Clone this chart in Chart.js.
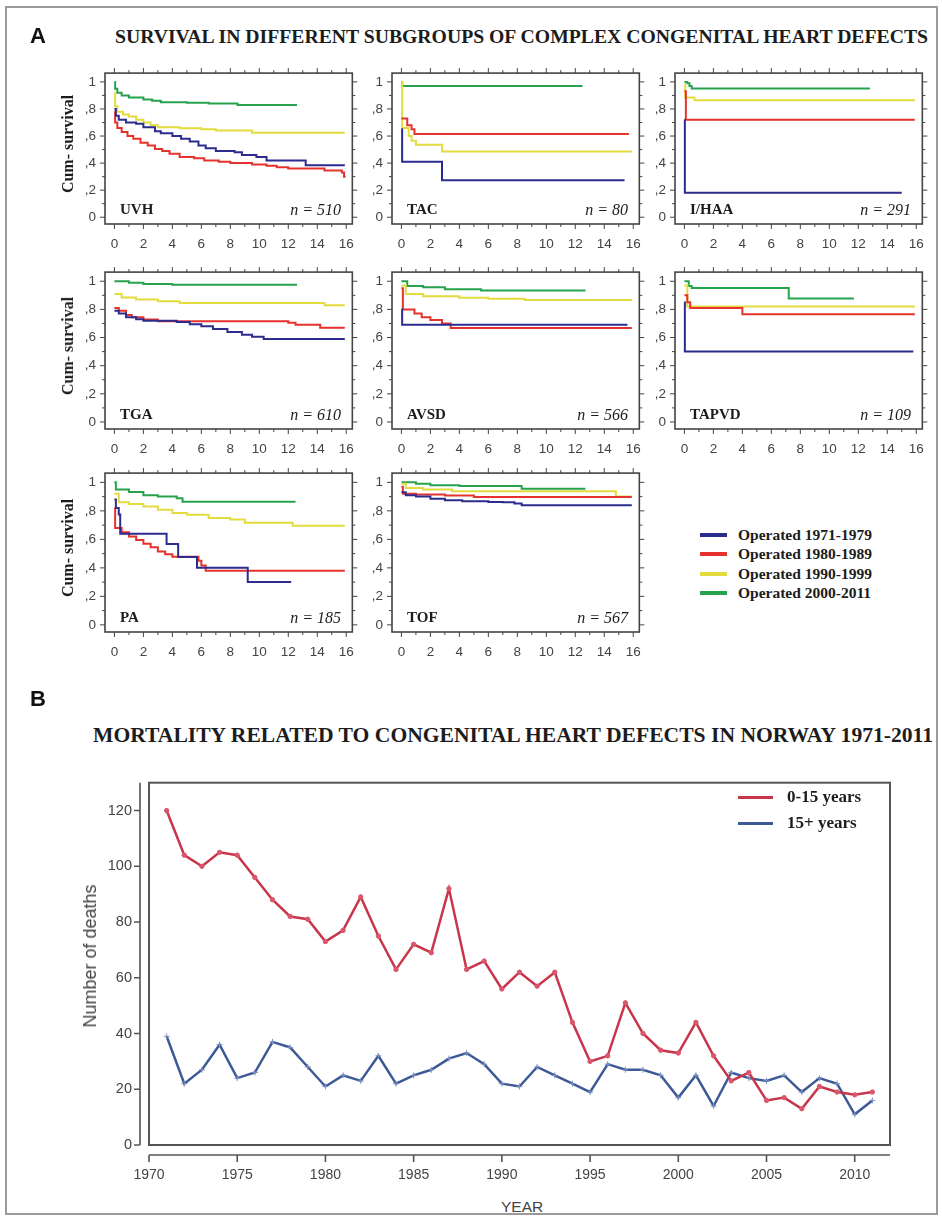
<!DOCTYPE html>
<html>
<head>
<meta charset="utf-8">
<script src="https://cdn.jsdelivr.net/npm/chart.js@4.4.0/dist/chart.umd.min.js"></script>
<style>
body { margin: 0; background: #fff; }
#page { position: relative; width: 942px; height: 1219px; overflow: hidden; background: #fff; }
#frame { position: absolute; left: 5px; top: 6px; width: 929px; height: 1205px; border: 2px solid #9a9a9a; }
canvas { position: absolute; }
.txt { position: absolute; white-space: nowrap; line-height: 1; }
.serif { font-family: "Liberation Serif", "Times New Roman", serif; color: #1c1c1c; }
.bold { font-weight: bold; }
.panel { font-family: "Liberation Sans", Arial, sans-serif; font-weight: bold; font-size: 22px; color: #111; }
.sans { font-family: "Liberation Sans", Arial, sans-serif; color: #444; }
.swatch { position: absolute; height: 4px; }
</style>
</head>
<body>
<div id="page"><div id="frame"></div></div>
<script>
// survival curves, [years after operation, cumulative survival]
const uvh71 = [[0,0.8],[0.1,0.75],[0.3,0.72],[0.8,0.7],[1.5,0.69],[2,0.665],[2.8,0.635],[3.2,0.62],[4,0.6],[4.6,0.58],[5.2,0.56],[5.8,0.53],[6.3,0.51],[7,0.49],[8.3,0.48],[8.8,0.46],[9.8,0.445],[10.5,0.42],[13.2,0.385],[15.9,0.385]];
const uvh80 = [[0,0.78],[0.05,0.7],[0.2,0.66],[0.5,0.63],[0.9,0.6],[1.3,0.58],[1.8,0.55],[2.3,0.53],[2.8,0.505],[3.3,0.49],[3.8,0.47],[4.5,0.445],[5.5,0.435],[6.2,0.42],[7.2,0.41],[8,0.4],[9.5,0.39],[10.5,0.38],[11.2,0.37],[12,0.36],[14.5,0.345],[15.7,0.33],[15.85,0.3],[15.95,0.3]];
const uvh90 = [[0,0.92],[0.05,0.82],[0.2,0.78],[0.6,0.76],[1,0.745],[1.5,0.72],[2,0.7],[2.5,0.68],[3,0.665],[4.5,0.658],[6,0.65],[7,0.64],[9.5,0.625],[15.9,0.625]];
const uvh00 = [[0,1],[0.05,0.95],[0.2,0.92],[0.5,0.9],[1,0.885],[2,0.87],[2.6,0.86],[3.2,0.85],[5,0.845],[6.5,0.84],[8.5,0.83],[12.6,0.83]];

const tac71 = [[0,0.65],[0.05,0.41],[2.8,0.273],[15.4,0.273]];
const tac80 = [[0,0.73],[0.4,0.68],[0.7,0.65],[0.9,0.615],[15.7,0.615]];
const tac90 = [[0,1],[0.05,0.66],[0.5,0.6],[0.7,0.565],[1,0.535],[2.8,0.485],[15.9,0.485]];
const tac00 = [[0,1],[0.05,0.97],[12.5,0.97]];

const iha71 = [[0,0.72],[0.03,0.18],[15,0.18]];
const iha80 = [[0,0.93],[0.1,0.72],[15.9,0.72]];
const iha90 = [[0,0.98],[0.05,0.885],[0.7,0.865],[15.9,0.865]];
const iha00 = [[0,1],[0.2,0.99],[0.35,0.97],[0.5,0.952],[12.8,0.952]];

const tga71 = [[0,0.79],[0.3,0.77],[0.8,0.745],[1.5,0.73],[2,0.72],[4.3,0.71],[5.2,0.695],[6,0.68],[6.8,0.66],[7.8,0.64],[8.8,0.62],[9.5,0.605],[10.3,0.59],[15.9,0.59]];
const tga80 = [[0,0.81],[0.3,0.79],[0.8,0.76],[1.2,0.745],[2,0.728],[3,0.716],[12,0.705],[12.5,0.69],[14.2,0.67],[15.9,0.67]];
const tga90 = [[0,0.91],[0.5,0.885],[1.5,0.87],[3,0.857],[4.5,0.845],[14.5,0.83],[15.9,0.83]];
const tga00 = [[0,1],[1,0.99],[2,0.98],[4,0.975],[12.6,0.975]];

const avs71 = [[0,0.8],[0.05,0.69],[15.6,0.69]];
const avs80 = [[0,0.95],[0.1,0.8],[0.9,0.77],[1.4,0.745],[2,0.725],[2.8,0.7],[3.4,0.667],[15.9,0.667]];
const avs90 = [[0,0.97],[0.3,0.91],[1.5,0.893],[4,0.882],[6,0.875],[8.5,0.867],[15.9,0.867]];
const avs00 = [[0,1],[0.4,0.967],[1.5,0.958],[3,0.944],[5.5,0.935],[12.7,0.935]];

const tap71 = [[0,0.85],[0.03,0.5],[15.8,0.5]];
const tap80 = [[0,0.9],[0.2,0.85],[0.4,0.81],[4,0.765],[15.9,0.765]];
const tap90 = [[0,0.97],[0.2,0.82],[15.9,0.82]];
const tap00 = [[0,1],[0.3,0.966],[0.5,0.952],[7.2,0.878],[11.7,0.878]];

const pa71 = [[0,0.88],[0.1,0.82],[0.3,0.775],[0.4,0.64],[3.6,0.567],[4.4,0.477],[5.7,0.4],[9.2,0.3],[12.2,0.3]];
const pa80 = [[0,0.82],[0.05,0.68],[0.5,0.65],[1,0.62],[1.5,0.595],[2,0.57],[2.5,0.545],[3,0.515],[3.5,0.495],[4,0.478],[5.8,0.45],[6,0.416],[6.3,0.38],[15.9,0.38]];
const pa90 = [[0,0.92],[0.3,0.86],[1,0.848],[2,0.83],[3,0.807],[4,0.785],[5,0.773],[6.5,0.75],[8,0.739],[9,0.717],[12.3,0.695],[15.9,0.695]];
const pa00 = [[0,1],[0.1,0.95],[1,0.932],[2,0.91],[3,0.9],[4.3,0.888],[4.7,0.864],[12.5,0.864]];

const tof71 = [[0,0.93],[0.3,0.91],[1,0.9],[2,0.885],[3,0.875],[4.2,0.867],[6,0.863],[7,0.86],[7.8,0.852],[8.3,0.84],[15.9,0.84]];
const tof80 = [[0,0.97],[0.1,0.92],[1,0.915],[3,0.908],[5,0.898],[15.9,0.898]];
const tof90 = [[0,0.99],[0.3,0.96],[1.5,0.95],[3.5,0.938],[14.8,0.9],[15.9,0.9]];
const tof00 = [[0,1],[1,0.99],[2,0.98],[4,0.975],[8.3,0.955],[12.7,0.955]];

const cohortNames = ['Operated 1971-1979', 'Operated 1980-1989', 'Operated 1990-1999', 'Operated 2000-2011'];
const cohortColors = ['#2b2c8e', '#e5322c', '#e3dc3e', '#27a24d'];
const groupNames = ['UVH', 'TAC', 'I/HAA', 'TGA', 'AVSD', 'TAPVD', 'PA', 'TOF'];
const groupN = [510, 80, 291, 610, 566, 109, 185, 567];
const survYTicks = [0, 0.2, 0.4, 0.6, 0.8, 1];
const survYLabels = ['0', ',2', ',4', ',6', ',8', '1'];
const survXTicks = [0, 2, 4, 6, 8, 10, 12, 14, 16];

// mortality in Norway
const years = [1971,1972,1973,1974,1975,1976,1977,1978,1979,1980,1981,1982,1983,1984,1985,1986,1987,1988,1989,1990,1991,1992,1993,1994,1995,1996,1997,1998,1999,2000,2001,2002,2003,2004,2005,2006,2007,2008,2009,2010,2011];
const deathsChild = [120,104,100,105,104,96,88,82,81,73,77,89,75,63,72,69,92,63,66,56,62,57,62,44,30,32,51,40,34,33,44,32,23,26,16,17,13,21,19,18,19];
const deathsAdult = [39,22,27,36,24,26,37,35,28,21,25,23,32,22,25,27,31,33,29,22,21,28,25,22,19,29,27,27,25,17,25,14,26,24,23,25,19,24,22,11,16];
const yearTicks = [1970, 1975, 1980, 1985, 1990, 1995, 2000, 2005, 2010];
const deathTicks = [0, 20, 40, 60, 80, 100, 120];

const page = document.getElementById('page');

function addText(html, cls, left, top, size, extra) {
  const d = document.createElement('div');
  d.className = 'txt ' + cls;
  d.innerHTML = html;
  d.style.left = left + 'px';
  d.style.top = top + 'px';
  d.style.fontSize = size + 'px';
  if (extra) Object.assign(d.style, extra);
  page.appendChild(d);
  return d;
}

function fitWidth(el, w) {
  const r = el.getBoundingClientRect().width;
  el.style.transformOrigin = '0 50%';
  el.style.transform = 'scaleX(' + (w / r) + ')';
}

// box ticks on all four sides of each survival panel
const frameTicks = {
  id: 'frameTicks',
  afterDraw(chart) {
    const { ctx, chartArea: a, scales: { x, y } } = chart;
    ctx.save();
    ctx.strokeStyle = '#444';
    ctx.lineWidth = 1.6;
    ctx.strokeRect(a.left, a.top, a.right - a.left, a.bottom - a.top);
    ctx.lineWidth = 1;
    ctx.beginPath();
    for (let v = 0; v <= 16; v++) {
      const px = x.getPixelForValue(v);
      const len = v % 2 === 0 ? 5 : 3;
      ctx.moveTo(px, a.bottom); ctx.lineTo(px, a.bottom + len);
      ctx.moveTo(px, a.top); ctx.lineTo(px, a.top - len);
    }
    for (let k = 0; k <= 10; k++) {
      const py = y.getPixelForValue(k / 10);
      const len = k % 2 === 0 ? 5 : 3;
      ctx.moveTo(a.left, py); ctx.lineTo(a.left - len, py);
      ctx.moveTo(a.right, py); ctx.lineTo(a.right + len, py);
    }
    ctx.stroke();
    ctx.restore();
  }
};

const cols = [105, 392, 675];
const rows = [[64, 160], [263, 166], [464, 168]];
const boxW = 251;

function survChart(g, col, row, series) {
  const L = 48, T = 8, R = 10, B = 34;
  const bx = cols[col], by = rows[row][0], bh = rows[row][1];
  const cv = document.createElement('canvas');
  cv.width = boxW + L + R;
  cv.height = bh + T + B;
  cv.style.left = (bx - L) + 'px';
  cv.style.top = (by - T) + 'px';
  page.appendChild(cv);
  new Chart(cv, {
    type: 'line',
    data: {
      datasets: series.map((s, i) => ({
        label: cohortNames[i],
        data: s.map(p => ({ x: p[0], y: p[1] })),
        borderColor: cohortColors[i],
        borderWidth: 2,
        pointRadius: 0,
        stepped: true,
        fill: false
      }))
    },
    options: {
      responsive: false,
      animation: false,
      events: [],
      layout: { padding: { top: T, right: R, left: 0, bottom: 0 } },
      plugins: { legend: { display: false }, tooltip: { enabled: false } },
      scales: {
        x: {
          type: 'linear', min: -0.65, max: 16.42,
          grid: { display: false, drawTicks: false },
          border: { display: false },
          afterBuildTicks: s => { s.ticks = survXTicks.map(v => ({ value: v })); },
          afterFit: s => { s.height = B; },
          ticks: { padding: 12, autoSkip: false, maxRotation: 0, color: '#444', font: { family: 'Liberation Sans', size: 13.5 } }
        },
        y: {
          type: 'linear', min: -0.05, max: 1.065,
          grid: { display: false, drawTicks: false },
          border: { display: false },
          afterBuildTicks: s => { s.ticks = survYTicks.map(v => ({ value: v })); },
          afterFit: s => { s.width = L; },
          ticks: { padding: 9, color: '#444', font: { family: 'Liberation Sans', size: 13.5 },
                   callback: (v, i) => survYLabels[i] }
        }
      }
    },
    plugins: [frameTicks]
  });
  addText(groupNames[g], 'serif bold', bx + 15, by + bh - 22, 15);
  const n = addText('<i>n</i> = ' + groupN[g], 'serif', 0, by + bh - 22.5, 16, { fontStyle: 'italic' });
  n.style.left = (bx + boxW - 15 - n.getBoundingClientRect().width) + 'px';
  if (col === 0) {
    addText('Cum- survival', 'serif bold', 68, by + bh / 2, 16,
      { transform: 'translate(-50%, -50%) rotate(-90deg)' });
  }
}

survChart(0, 0, 0, [uvh71, uvh80, uvh90, uvh00]);
survChart(1, 1, 0, [tac71, tac80, tac90, tac00]);
survChart(2, 2, 0, [iha71, iha80, iha90, iha00]);
survChart(3, 0, 1, [tga71, tga80, tga90, tga00]);
survChart(4, 1, 1, [avs71, avs80, avs90, avs00]);
survChart(5, 2, 1, [tap71, tap80, tap90, tap00]);
survChart(6, 0, 2, [pa71, pa80, pa90, pa00]);
survChart(7, 1, 2, [tof71, tof80, tof90, tof00]);

// legend for panel A
cohortNames.forEach((name, i) => {
  const y = 535 + i * 19.3;
  const sw = document.createElement('div');
  sw.className = 'swatch';
  Object.assign(sw.style, { left: '700px', top: (y - 2) + 'px', width: '27px', background: cohortColors[i] });
  page.appendChild(sw);
  addText(name, 'serif bold', 738, y - 8, 15.5);
});

// panel letters and titles
addText('A', 'panel', 30, 25, 22);
fitWidth(addText('SURVIVAL IN DIFFERENT SUBGROUPS OF COMPLEX CONGENITAL HEART DEFECTS', 'serif bold', 115, 27, 19), 813);
addText('B', 'panel', 30, 688, 22);
fitWidth(addText('MORTALITY RELATED TO CONGENITAL HEART DEFECTS IN NORWAY 1971-2011', 'serif bold', 93, 725, 20), 840);

// panel B chart: detached axes below and left of the frame
const axisBox = {
  id: 'axisBox',
  afterDraw(chart) {
    const { ctx, chartArea: a, scales: { x, y } } = chart;
    ctx.save();
    ctx.strokeStyle = '#555';
    ctx.lineWidth = 2;
    ctx.strokeRect(a.left, a.top, a.right - a.left, a.bottom - a.top);
    const ax = a.left - 9, ay = a.bottom + 10;
    ctx.lineWidth = 1.6;
    ctx.beginPath();
    ctx.moveTo(ax, a.top); ctx.lineTo(ax, a.bottom);
    y.ticks.forEach(t => { const py = y.getPixelForValue(t.value); ctx.moveTo(ax, py); ctx.lineTo(ax - 6, py); });
    ctx.moveTo(a.left, ay); ctx.lineTo(a.right, ay);
    x.ticks.forEach(t => { const px = x.getPixelForValue(t.value); ctx.moveTo(px, ay); ctx.lineTo(px, ay + 7); });
    ctx.stroke();
    ctx.restore();
  }
};

const bCanvas = document.createElement('canvas');
bCanvas.width = 845;
bCanvas.height = 440;
bCanvas.style.left = '60px';
bCanvas.style.top = '757px';
page.appendChild(bCanvas);

new Chart(bCanvas, {
  type: 'line',
  data: {
    datasets: [
      {
        label: '0-15 years',
        data: years.map((yr, i) => ({ x: yr, y: deathsChild[i] })),
        borderColor: '#c8364c', borderWidth: 2.5,
        pointStyle: 'circle', pointRadius: 2.2,
        pointBackgroundColor: '#d9566c', pointBorderColor: '#d9566c', pointBorderWidth: 1,
        tension: 0
      },
      {
        label: '15+ years',
        data: years.map((yr, i) => ({ x: yr, y: deathsAdult[i] })),
        borderColor: '#3d5a96', borderWidth: 2.5,
        pointStyle: 'cross', pointRadius: 3,
        pointBorderColor: '#7d92c4', pointBorderWidth: 1,
        tension: 0
      }
    ]
  },
  options: {
    responsive: false,
    animation: false,
    events: [],
    layout: { padding: { top: 10, right: 15, left: 0, bottom: 0 } },
    plugins: { legend: { display: false }, tooltip: { enabled: false } },
    scales: {
      x: {
        type: 'linear', min: 1970, max: 2012,
        grid: { display: false, drawTicks: false },
        border: { display: false },
        afterBuildTicks: s => { s.ticks = yearTicks.map(v => ({ value: v })); },
        afterFit: s => { s.height = 52; },
        ticks: { padding: 22, autoSkip: false, maxRotation: 0, color: '#444', font: { family: 'Liberation Sans', size: 14 },
                 callback: v => String(v) }
      },
      y: {
        type: 'linear', min: 0, max: 130,
        grid: { display: false, drawTicks: false },
        border: { display: false },
        afterBuildTicks: s => { s.ticks = deathTicks.map(v => ({ value: v })); },
        afterFit: s => { s.width = 89; },
        ticks: { padding: 17, color: '#444', font: { family: 'Liberation Sans', size: 14.5 } }
      }
    }
  },
  plugins: [axisBox]
});

addText('Number of deaths', 'sans', 90, 956, 18, { transform: 'translate(-50%, -50%) rotate(-90deg)' });
addText('YEAR', 'sans', 501, 1199, 15.5);

// legend for panel B
[['0-15 years', '#c8364c', 797], ['15+ years', '#3d5a96', 823]].forEach(([label, color, y]) => {
  const sw = document.createElement('div');
  sw.className = 'swatch';
  Object.assign(sw.style, { left: '738px', top: (y - 1.5) + 'px', width: '35px', height: '3px', background: color });
  page.appendChild(sw);
  addText(label, 'serif bold', 787, y - 9, 17);
});
</script>
</body>
</html>
